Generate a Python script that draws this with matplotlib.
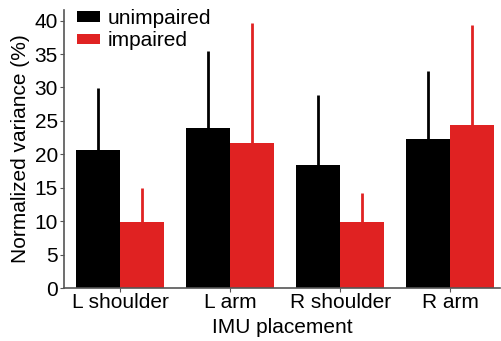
import numpy as np
import matplotlib.pyplot as plt

plt.rcParams['font.family'] = ['Liberation Sans', 'DejaVu Sans']

# data
placements = ['L shoulder', 'L arm', 'R shoulder', 'R arm']
unimpaired = [20.6, 24.0, 18.4, 22.3]
unimpaired_err = [9.3, 11.4, 10.5, 10.2]
impaired = [9.9, 21.7, 9.9, 24.4]
impaired_err = [5.0, 18.0, 4.3, 15.0]

black = '#000000'
red = '#E02222'

fig = plt.figure(figsize=(5.01, 3.41), dpi=100)
ax = fig.add_axes([0.128, 0.155, 0.870, 0.816])

x = np.arange(len(placements))
w = 0.4
ax.bar(x - w / 2, unimpaired, w, color=black, label='unimpaired', zorder=2)
ax.bar(x + w / 2, impaired, w, color=red, label='impaired', zorder=2)

# upper-only error bars, no caps
ax.errorbar(x - w / 2, unimpaired, yerr=[np.zeros(4), unimpaired_err],
            fmt='none', ecolor=black, elinewidth=2, capsize=0, zorder=1)
ax.errorbar(x + w / 2, impaired, yerr=[np.zeros(4), impaired_err],
            fmt='none', ecolor=red, elinewidth=2, capsize=0, zorder=1)

ax.set_xlim(-0.507, 3.45)
ax.set_ylim(0, 41.6)
ax.set_yticks(np.arange(0, 41, 5))
ax.set_xticks(x)
ax.set_xticklabels(placements)

for s in ['top', 'right']:
    ax.spines[s].set_visible(False)
for s in ['left', 'bottom']:
    ax.spines[s].set_color('#555555')
    ax.spines[s].set_linewidth(1.2)

ax.tick_params(axis='y', labelsize=15, length=3, pad=1.5, color='#555555')
ax.tick_params(axis='x', labelsize=15, length=3, pad=0.5, color='#555555')
ax.set_ylabel('Normalized variance (%)', fontsize=15, labelpad=3)
ax.set_xlabel('IMU placement', fontsize=15, labelpad=4)

ax.legend(loc='upper left', frameon=False, fontsize=15,
          handlelength=1.1, handleheight=0.43, handletextpad=0.34,
          borderpad=0, borderaxespad=0, labelspacing=0.15,
          bbox_to_anchor=(0.03, 1.002))

fig.savefig('out.png', dpi=100)
